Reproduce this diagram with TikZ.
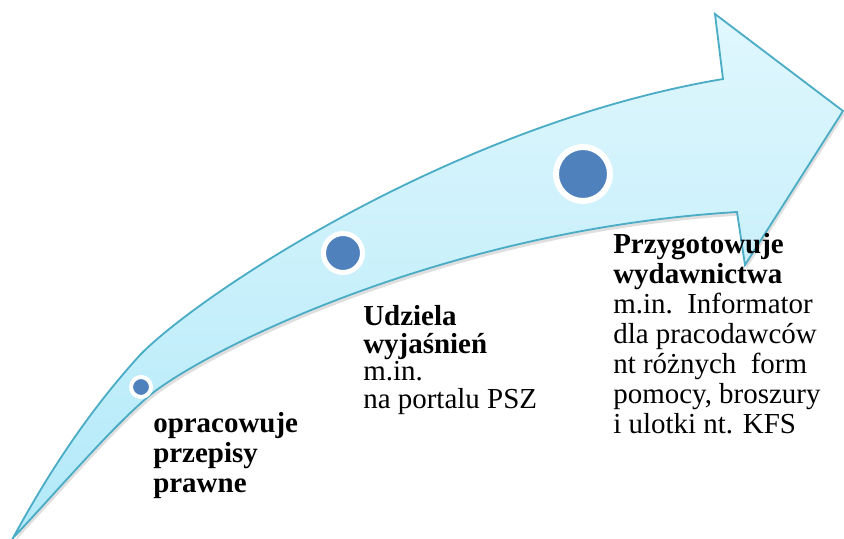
\documentclass[tikz,border=0pt]{standalone}
\usepackage{fontspec}
\setmainfont{Liberation Serif}
\usetikzlibrary{shadows}
\definecolor{arrowtop}{RGB}{224,247,253}
\definecolor{arrowbot}{RGB}{178,233,249}
\definecolor{arrowline}{RGB}{75,172,198}
\definecolor{dotblue}{RGB}{79,129,189}

\begin{document}
\begin{tikzpicture}[x=0.025cm,y=-0.025cm,
    arrowbody/.style={draw=arrowline,line width=1.3pt,top color=arrowtop,bottom color=arrowbot,
      drop shadow={shadow xshift=0.04cm,shadow yshift=-0.09cm,opacity=0.25}},
    stepdot/.style={circle,fill=dotblue,draw=white,inner sep=0pt},
    steplabel/.style={anchor=base west,inner sep=0pt,align=left,font=\fontsize{20.6}{21.3}\selectfont}]
  \useasboundingbox (0,0) rectangle (844,539);

  % curved arrow
  \path[arrowbody] (13,538) .. controls (50,470) and (90,410) .. (140,355)
    .. controls (195,298) and (450,125) .. (723,79)
    -- (715,14) -- (843,111) -- (745,265) -- (737,212)
    .. controls (440,230) and (200,353) .. (149,396)
    .. controls (110,429) and (60,488) .. (13,538) -- cycle;

  % dots on the arrow
  \node[stepdot,minimum size=0.5cm,line width=0.1cm] (dotA) at (141,387) {};
  \node[stepdot,minimum size=0.975cm,line width=0.125cm] (dotB) at (343,253) {};
  \node[stepdot,minimum size=1.35cm,line width=0.15cm] (dotC) at (583,174) {};

  % labels (anchored at the last baseline)
  \node[steplabel] (textA) at (153,492) {\textbf{opracowuje}\\ \textbf{przepisy}\\ \textbf{prawne}};
  \node[steplabel,font=\fontsize{20.6}{19.5}\selectfont] (textB) at (363,408)
    {\textbf{Udziela}\\ \textbf{wyjaśnień}\\ m.in.\\ na portalu PSZ};
  \node[steplabel] (textC) at (613,433)
    {\textbf{Przygotowuje}\\ \textbf{wydawnictwa}\\ m.in.\ \ Informator\\ dla pracodawców\\
     nt różnych\ \ form\\ pomocy, broszury\\ i ulotki nt. KFS};
\end{tikzpicture}
\end{document}
